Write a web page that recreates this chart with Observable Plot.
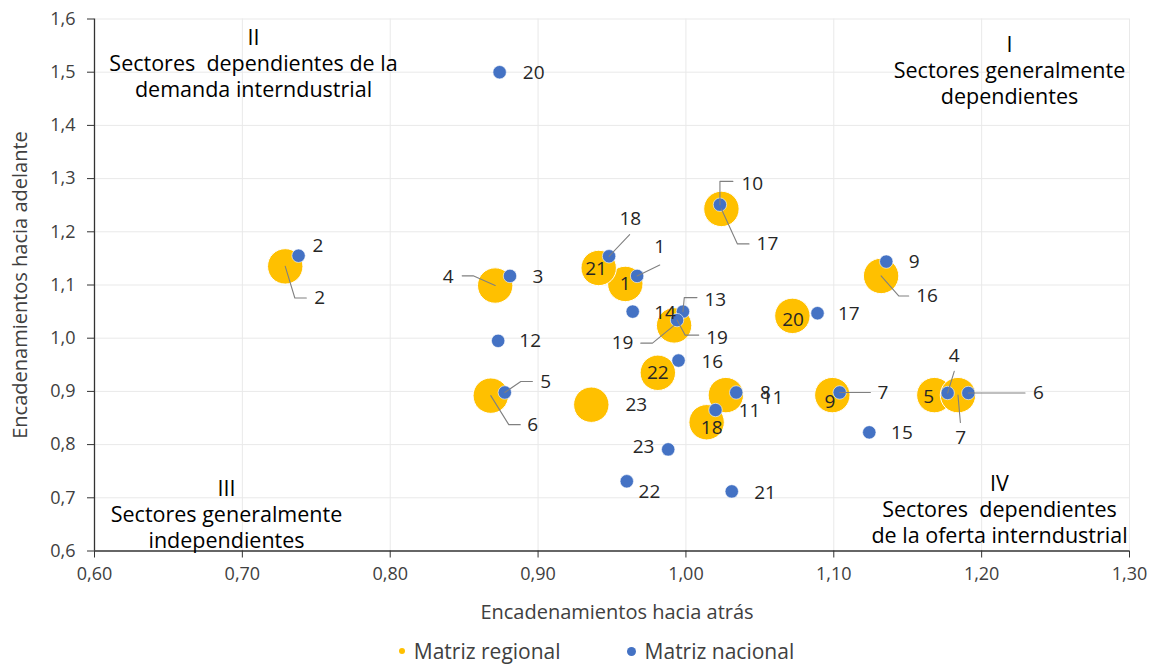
<!DOCTYPE html>
<html>
<head>
<meta charset="utf-8">
<script src="https://cdn.jsdelivr.net/npm/d3@7"></script>
<script src="https://cdn.jsdelivr.net/npm/@observablehq/plot@0.6"></script>
<style>
  body { margin: 0; background: #fff; font-family: "Open Sans", sans-serif; }
  #chart svg { display: block; }
  #legend { height: 30px; line-height: 30px; display: flex; justify-content: center; gap: 66px; transform: translateX(20px); font-size: 21px; color: #404040; }
  #legend .item { display: flex; align-items: center; }
  #legend .dot { display: inline-block; border-radius: 50%; margin-right: 9px; }
</style>
</head>
<body>
<div id="chart"></div>
<div id="legend"></div>
<script>
// ---- data ----
const sectorsNacional = [1,2,3,4,5,6,7,8,9,10,11,12,13,14,15,16,17,18,19,20,21,22,23];
const nacionalX = [0.967,0.738,0.881,1.177,0.8775,1.191,1.104,1.034,1.1355,1.023,1.020,0.873,0.998,0.964,1.124,0.995,1.089,0.948,0.994,0.874,1.031,0.960,0.988];
const nacionalY = [1.117,1.155,1.117,0.897,0.898,0.897,0.898,0.898,1.144,1.251,0.865,0.995,1.050,1.050,0.823,0.958,1.047,1.154,1.034,1.500,0.712,0.731,0.791];

const sectorsRegional = [1,2,4,5,6,7,9,11,16,17,18,19,20,21,22,23];
const regionalX = [0.959,0.729,0.871,1.168,0.868,1.184,1.099,1.027,1.132,1.024,1.014,0.992,1.072,0.941,0.981,0.936];
const regionalY = [1.102,1.135,1.099,0.893,0.892,0.893,0.893,0.893,1.117,1.243,0.842,1.024,1.042,1.132,0.935,0.875];

const xTicks = [0.6,0.7,0.8,0.9,1.0,1.1,1.2,1.3];
const yTicks = [0.6,0.7,0.8,0.9,1.0,1.1,1.2,1.3,1.4,1.5,1.6];

const seriesNames = ["Matriz regional", "Matriz nacional"];
const xTitle = "Encadenamientos hacia atrás";
const yTitle = "Encadenamientos hacia adelante";
const quadrantTexts = [
  "I\nSectores generalmente\ndependientes",
  "II\nSectores\u00a0 dependientes de la\ndemanda interndustrial",
  "III\nSectores generalmente\nindependientes",
  "IV\nSectores\u00a0 dependientes\nde la oferta interndustrial"
];

// ---- layout ----
const W = 1153, H = 636, mL = 94, mR = 24, mT = 18.5, mB = 85.5;
const xDom = [0.6, 1.3], yDom = [0.6, 1.6];
const kx = (W - mL - mR) / (xDom[1] - xDom[0]);
const ky = (H - mT - mB) / (yDom[1] - yDom[0]);
const YELLOW = "#FFC000", BLUE = "#4472C4";

// label placement (pixel offsets from the point), separate from the data
const placeNacional = {
  1: {d: [22.6, -29], l: [[22.6, -11]]},
  2: {d: [19.5, -10]},
  3: {d: [28, 1]},
  4: {d: [6.6, -37.3], l: [[6.6, -21.6]]},
  5: {d: [41, -11], l: [[16, -11], [27.6, -11]]},
  6: {d: [70, 0], l: [[56.7, 0]]},
  7: {d: [43.3, 0], l: [[30.7, 0]]},
  8: {d: [29.3, 0]},
  9: {d: [28, 0.7]},
  10: {d: [32.4, -20.7], l: [[0, -23.3], [13, -23.3]]},
  11: {d: [34, 0.7]},
  12: {d: [32, 0]},
  13: {d: [32.3, -11.4], l: [[1.3, -14], [14, -14]]},
  14: {d: [32.3, 1]},
  15: {d: [32.7, 0.6]},
  16: {d: [33.7, 1]},
  17: {d: [31.3, 0.3]},
  18: {d: [21.3, -37.4], l: [[20.6, -21.7]]},
  19: {d: [40, 17.4], l: [[8, 15], [21.7, 15]]},
  20: {d: [34, 0.5]},
  21: {d: [33.3, 1]},
  22: {d: [22.6, 11]},
  23: {d: [-24.7, -2.3]}
};
const placeRegional = {
  1: {d: [0, 0]},
  2: {d: [34.5, 31.6], l: [[9.6, 31.6], [21.1, 31.6]]},
  4: {d: [-47, -8.3], l: [[-22, -9.7], [-33, -9.7]]},
  5: {d: [-5.7, 1.4]},
  6: {d: [42, 29], l: [[18, 29], [29.5, 29]]},
  7: {d: [2.7, 43], l: [[2.4, 27.4]]},
  9: {d: [-2.4, 6.4]},
  11: {d: [46.7, 2.4]},
  16: {d: [46, 20], l: [[17.6, 20], [27.6, 20]]},
  17: {d: [46, 35], l: [[16, 35], [27.6, 35]]},
  18: {d: [5, 5.6]},
  19: {d: [-51.6, 17.7], l: [[-21.6, 17.7], [-33.3, 17.7]]},
  20: {d: [0.6, 4]},
  21: {d: [-2.7, 1]},
  22: {d: [0, 0]},
  23: {d: [45, 0]}
};

const nacional = sectorsNacional.map((s, i) => ({s, x: nacionalX[i], y: nacionalY[i], place: placeNacional[s]}));
const regional = sectorsRegional.map((s, i) => ({s, x: regionalX[i], y: regionalY[i], place: placeRegional[s]}));

const toData = (p, off) => ({x: p.x + off[0] / kx, y: p.y - off[1] / ky});
const labels = [...regional, ...nacional].map(p => ({...toData(p, p.place.d), text: String(p.s)}));
const leaders = [];
[...regional.map(p => ["r", p]), ...nacional.map(p => ["n", p])].forEach(([k, p]) => {
  if (!p.place.l) return;
  const id = k + p.s;
  [[0, 0], ...p.place.l].forEach(off => leaders.push({id, ...toData(p, off)}));
});

const locale = d3.formatLocale({decimal: ",", thousands: ".", grouping: [3], currency: ["", "€"]});
const fmtX = locale.format(".2f"), fmtY = locale.format(".1f");
const quad = {fontSize: 21.5, fill: "#000", textAnchor: "middle", lineAnchor: "middle", lineHeight: 1.22, text: d => d};

const chart = Plot.plot({
  width: W, height: H,
  marginLeft: mL, marginRight: mR, marginTop: mT, marginBottom: mB,
  x: {domain: xDom},
  y: {domain: yDom},
  style: {fontFamily: "Open Sans, sans-serif", background: "#fff", color: "#404040"},
  marks: [
    Plot.gridX(xTicks.slice(1), {stroke: "#e9e9e9", strokeOpacity: 1}),
    Plot.gridY(yTicks.slice(1), {stroke: "#e9e9e9", strokeOpacity: 1}),
    Plot.axisX({ticks: xTicks, tickFormat: fmtX, tickSize: 7, tickPadding: 9, fontSize: 18, stroke: "#333", fill: "#404040", label: null}),
    Plot.axisY({ticks: yTicks, tickFormat: fmtY, tickSize: 7, tickPadding: 12, fontSize: 18, stroke: "#333", fill: "#404040", label: null}),
    Plot.ruleX([xDom[0]], {stroke: "#333", strokeWidth: 1.3}),
    Plot.ruleY([yDom[0]], {stroke: "#333", strokeWidth: 1.3}),
    Plot.dot(regional, {x: "x", y: "y", r: 17.7, fill: YELLOW, stroke: "#fff", strokeWidth: 1}),
    Plot.dot(nacional, {x: "x", y: "y", r: 6.7, fill: BLUE, stroke: "#fff", strokeWidth: 0.6}),
    Plot.line(leaders, {x: "x", y: "y", z: "id", stroke: "#808080", strokeWidth: 1.1}),
    Plot.text(labels, {x: "x", y: "y", text: "text", fontSize: 19, fill: "#262626", textAnchor: "middle", lineAnchor: "middle"}),
    Plot.text([quadrantTexts[0]], {...quad, frameAnchor: "top-right", dx: -120, dy: 50.5}),
    Plot.text([quadrantTexts[1]], {...quad, frameAnchor: "top-left", dx: 159, dy: 43.8}),
    Plot.text([quadrantTexts[2]], {...quad, frameAnchor: "bottom-left", dx: 132, dy: -37.2}),
    Plot.text([quadrantTexts[3]], {...quad, frameAnchor: "bottom-right", dx: -130, dy: -42.2}),
    Plot.text([xTitle], {frameAnchor: "bottom", dx: 5, dy: 61.5, text: d => d, fontSize: 20, fill: "#404040", textAnchor: "middle", lineAnchor: "middle"}),
    Plot.text([yTitle], {frameAnchor: "left", dx: -74, rotate: -90, text: d => d, fontSize: 20, fill: "#404040", textAnchor: "middle", lineAnchor: "middle"})
  ]
});
document.getElementById("chart").appendChild(chart);

const legend = document.getElementById("legend");
[[seriesNames[0], YELLOW, 6], [seriesNames[1], BLUE, 9]].forEach(([name, color, size]) => {
  const item = document.createElement("div");
  item.className = "item";
  const dot = document.createElement("span");
  dot.className = "dot";
  dot.style.background = color;
  dot.style.width = size + "px";
  dot.style.height = size + "px";
  item.appendChild(dot);
  item.appendChild(document.createTextNode(name));
  legend.appendChild(item);
});
</script>
</body>
</html>
